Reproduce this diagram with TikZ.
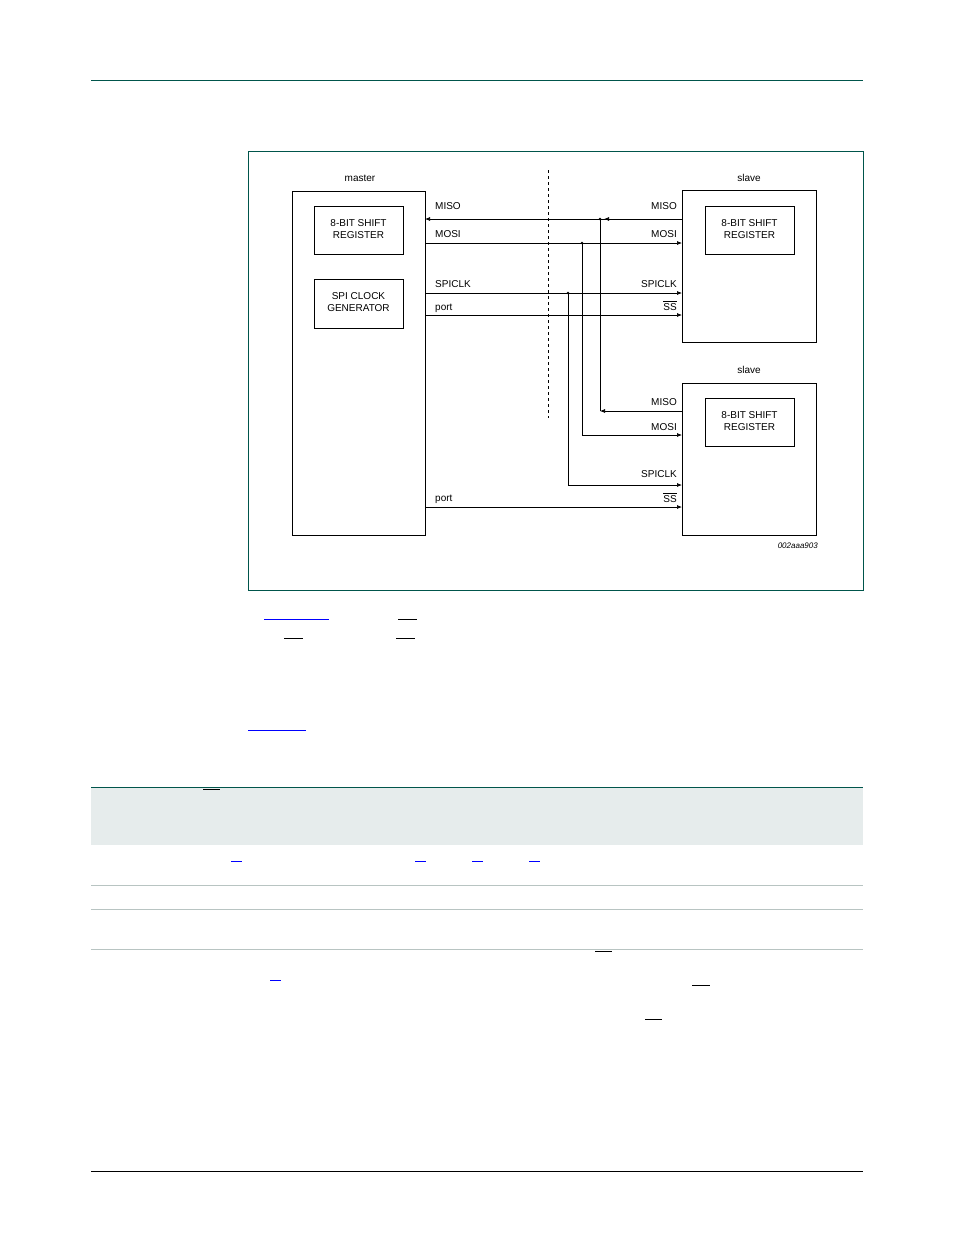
\documentclass[tikz,border=0pt]{standalone}
\usepackage{fontspec}
\setmainfont{Liberation Sans}
\usetikzlibrary{arrows.meta,decorations.markings}
\definecolor{teal1}{RGB}{0,85,75}
\definecolor{band}{RGB}{230,236,236}
\definecolor{rule}{RGB}{184,196,194}
\begin{document}
\begin{tikzpicture}[x=1pt,y=-1pt,
  txt/.style={font=\fontsize{10}{12}\selectfont,inner sep=0pt},
  sig/.style={line width=0.7pt,-{Latex[length=5pt,width=4pt]}},
  wire/.style={line width=0.7pt},
  dot/.style={circle,fill,inner sep=0.9pt},
  box/.style={draw,line width=1pt},
  frag/.style={line width=0.8pt}]
\useasboundingbox (0,0) rectangle (954,1235);
\fill[white] (0,0) rectangle (954,1235);
\draw[teal1,line width=0.8pt] (91,80) -- (863,80);
\draw[line width=0.6pt] (91,1171) -- (863,1171);
\draw[teal1,line width=0.6pt] (248,151) rectangle (863,590);
% boxes
\draw[box] (292,191) rectangle (425,535);
\draw[box] (314,206) rectangle (403,254);
\draw[box] (314,279) rectangle (403,328);
\draw[box] (682,190) rectangle (816,342);
\draw[box] (705,206) rectangle (794,254);
\draw[box] (682,383) rectangle (816,535);
\draw[box] (705,398) rectangle (794,446);
\node[txt,align=center] (sr1) at (358.5,229) {8-BIT SHIFT\\REGISTER};
\node[txt,align=center] (cg) at (358.5,302) {SPI CLOCK\\GENERATOR};
\node[txt,align=center] (sr2) at (749.5,229) {8-BIT SHIFT\\REGISTER};
\node[txt,align=center] (sr3) at (749.5,421) {8-BIT SHIFT\\REGISTER};
\node[txt] (lm) at (360,178) {master};
\node[txt] (ls1) at (749,178) {slave};
\node[txt] (ls2) at (749,370) {slave};
% dashed
\draw[dashed,line width=0.7pt] (548,170) -- (548,418);
% coordinates
\coordinate (m1) at (425,219); \coordinate (s1) at (682,219);
\coordinate (j1) at (600,219); \coordinate (t1) at (682,411); \coordinate (b1) at (600,411);
\coordinate (m2) at (425,243); \coordinate (s2) at (682,243);
\coordinate (j2) at (582,243); \coordinate (b2) at (582,435); \coordinate (t2) at (682,435);
\coordinate (m3) at (425,293); \coordinate (s3) at (682,293);
\coordinate (j3) at (568,293); \coordinate (b3) at (568,485); \coordinate (t3) at (682,485);
\coordinate (m4) at (425,315); \coordinate (s4) at (682,315);
\coordinate (m5) at (425,507); \coordinate (s5) at (682,507);
% signals
\draw[sig] (s1) -- (m1);
\draw[-{Latex[length=5pt,width=4pt]},line width=0.7pt] (s1) -- (604,219);
\draw[wire] (j1) -- (b1);
\draw[sig] (t1) -- (b1);
\draw[sig] (m2) -- (s2);
\draw[wire] (j2) -- (b2);
\draw[sig] (b2) -- (t2);
\draw[sig] (m3) -- (s3);
\draw[wire] (j3) -- (b3);
\draw[sig] (b3) -- (t3);
\draw[sig] (m4) -- (s4);
\draw[sig] (m5) -- (s5);
\node[dot] at (j1) {}; \node[dot] at (j2) {}; \node[dot] at (j3) {};
% labels
\node[txt,anchor=base west] at (435,209) {MISO};
\node[txt,anchor=base west] at (435,237) {MOSI};
\node[txt,anchor=base west] at (435,287) {SPICLK};
\node[txt,anchor=base west] at (435,310) {port};
\node[txt,anchor=base west] at (435,501) {port};
\node[txt,anchor=base east] at (677,209) {MISO};
\node[txt,anchor=base east] at (677,237) {MOSI};
\node[txt,anchor=base east] at (677,287) {SPICLK};
\node[txt,anchor=base east] at (677,310) {$\overline{\mbox{SS}}$};
\node[txt,anchor=base east] at (677,405) {MISO};
\node[txt,anchor=base east] at (677,430) {MOSI};
\node[txt,anchor=base east] at (677,477) {SPICLK};
\node[txt,anchor=base east] at (677,502) {$\overline{\mbox{SS}}$};
\node[txt,anchor=base east,font=\fontsize{8}{10}\selectfont\itshape] at (818,548) {002aaa903};
% text fragments
\draw[frag,blue] (264,619) -- (329,619);
\draw[frag] (398,619) -- (417,619);
\draw[frag] (284,638) -- (303,638);
\draw[frag] (396,638) -- (415,638);
\draw[frag,blue] (248,730) -- (306,730);
\fill[band] (91,787) rectangle (863,845);
\draw[teal1,line width=0.8pt] (91,787) -- (863,787);
\draw[line width=1pt] (203,789) -- (220,789);
\foreach \a/\b in {231/242,415/426,472/483,529/540} \draw[frag,blue] (\a,861) -- (\b,861);
\foreach \y in {885,909,949} \draw[rule,line width=0.8pt] (91,\y) -- (863,\y);
\draw[frag] (595,951) -- (612,951);
\draw[frag,blue] (270,980) -- (281,980);
\draw[frag] (692,985) -- (710,985);
\draw[frag] (645,1019) -- (662,1019);
\end{tikzpicture}
\end{document}
